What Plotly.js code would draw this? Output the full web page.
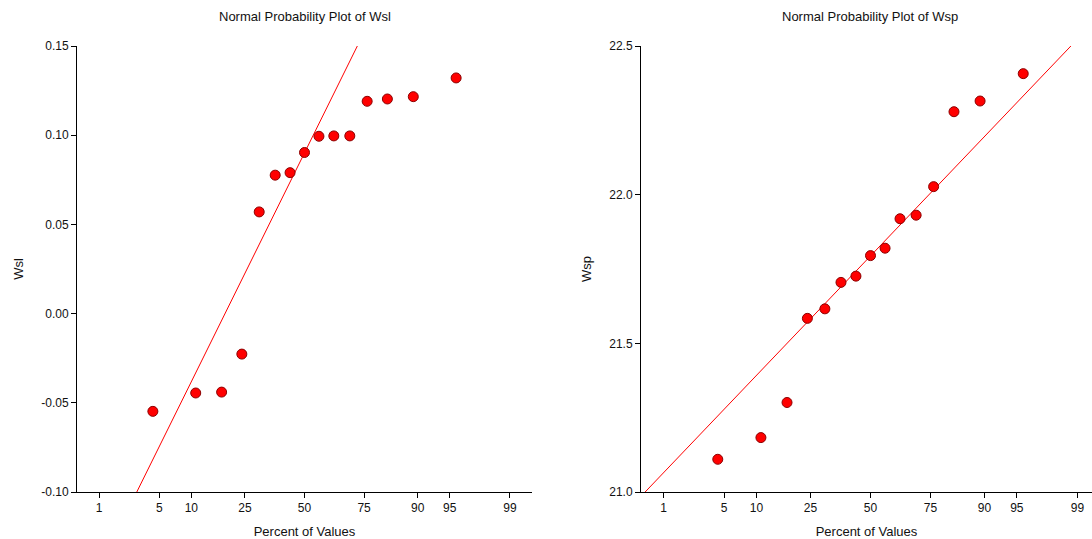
<!DOCTYPE html>
<html>
<head>
<meta charset="utf-8">
<script src="https://cdn.plot.ly/plotly-3.0.1.min.js"></script>
<style>html,body{margin:0;padding:0;background:#fff;}#chart{width:1092px;height:539px;}</style>
</head>
<body>
<div id="chart"></div>
<script>
// ---- data ----
const percentPos = [4.3, 10.9, 17.4, 23.9, 30.4, 37.0, 43.5, 50.0, 56.5, 63.0, 69.6, 76.1, 82.6, 89.1, 95.7];
const wslValues = [-0.0548, -0.0445, -0.0440, -0.0227, 0.0570, 0.0776, 0.0790, 0.0903, 0.0994, 0.0996, 0.0996, 0.1190, 0.1203, 0.1216, 0.1321];
const wspValues = [21.110, 21.183, 21.301, 21.584, 21.616, 21.705, 21.726, 21.795, 21.820, 21.919, 21.931, 22.027, 22.279, 22.315, 22.407];
const wslLine = {center: 0.0901, slope: 0.1001};   // value at 50% and per normal-score unit
const wspLine = {center: 21.794, slope: 0.3134};
const pctTicks = [1, 5, 10, 25, 50, 75, 90, 95, 99];
const pctTickText = ["1", "5", "10", "25", "50", "75", "90", "95", "99"];
const wslTicks = [-0.10, -0.05, 0.00, 0.05, 0.10, 0.15];
const wslTickText = ["-0.10", "-0.05", "0.00", "0.05", "0.10", "0.15"];
const wspTicks = [21.0, 21.5, 22.0, 22.5];
const wspTickText = ["21.0", "21.5", "22.0", "22.5"];

// normal probability scale: percent -> normal score (inverse normal CDF, Acklam)
function probit(p) {
  const a = [-3.969683028665376e+01, 2.209460984245205e+02, -2.759285104469687e+02, 1.383577518672690e+02, -3.066479806614716e+01, 2.506628277459239e+00];
  const b = [-5.447609879822406e+01, 1.615858368580409e+02, -1.556989798598866e+02, 6.680131188771972e+01, -1.328068155288572e+01];
  const c = [-7.784894002430293e-03, -3.223964580411365e-01, -2.400758277161838e+00, -2.549732539343734e+00, 4.374664141464968e+00, 2.938163982698783e+00];
  const d = [7.784695709041462e-03, 3.224671290700398e-01, 2.445134137142996e+00, 3.754408661907416e+00];
  const pl = 0.02425, ph = 1 - pl;
  let q, r;
  if (p < pl) { q = Math.sqrt(-2 * Math.log(p)); return (((((c[0]*q+c[1])*q+c[2])*q+c[3])*q+c[4])*q+c[5]) / ((((d[0]*q+d[1])*q+d[2])*q+d[3])*q+1); }
  if (p <= ph) { q = p - 0.5; r = q*q; return (((((a[0]*r+a[1])*r+a[2])*r+a[3])*r+a[4])*r+a[5])*q / (((((b[0]*r+b[1])*r+b[2])*r+b[3])*r+b[4])*r+1); }
  q = Math.sqrt(-2 * Math.log(1 - p));
  return -(((((c[0]*q+c[1])*q+c[2])*q+c[3])*q+c[4])*q+c[5]) / ((((d[0]*q+d[1])*q+d[2])*q+d[3])*q+1);
}
const toZ = pc => probit(pc / 100);
const zPts = percentPos.map(toZ);
const zTicks = pctTicks.map(toZ);
const zSpan = [-3.2, 3.2];

const markerStyle = {size: 10, color: '#ff0000', line: {color: '#8b0000', width: 1}};
const lineStyle = {color: '#ff0000', width: 1};
const font = {family: 'Liberation Sans, Arial, sans-serif', size: 12, color: '#111'};

const traces = [
  {x: zSpan, y: zSpan.map(z => wslLine.center + wslLine.slope * z), mode: 'lines', line: lineStyle, xaxis: 'x', yaxis: 'y', hoverinfo: 'skip'},
  {x: zPts, y: wslValues, mode: 'markers', marker: markerStyle, xaxis: 'x', yaxis: 'y', cliponaxis: false},
  {x: zSpan, y: zSpan.map(z => wspLine.center + wspLine.slope * z), mode: 'lines', line: lineStyle, xaxis: 'x2', yaxis: 'y2', hoverinfo: 'skip'},
  {x: zPts, y: wspValues, mode: 'markers', marker: markerStyle, xaxis: 'x2', yaxis: 'y2', cliponaxis: false}
];

const W = 1015;
const axisCommon = {
  showgrid: false, zeroline: false, showline: true, linecolor: '#000', linewidth: 1,
  ticks: 'outside', ticklen: 5, tickcolor: '#000', tickwidth: 1,
  tickfont: {family: font.family, size: 12, color: '#111'}, automargin: false, fixedrange: true
};
const xTitle = {text: 'Percent of Values', font: {family: font.family, size: 13, color: '#111'}, standoff: 13};

const layout = {
  width: 1092, height: 539,
  margin: {l: 77, r: 0, t: 46, b: 47},
  paper_bgcolor: '#fff', plot_bgcolor: '#fff',
  showlegend: false, font: font,
  xaxis: Object.assign({}, axisCommon, {domain: [0, 455 / W], range: [-2.576, 2.576], tickmode: 'array', tickvals: zTicks, ticktext: pctTickText, anchor: 'y', title: xTitle}),
  yaxis: Object.assign({}, axisCommon, {domain: [0, 1], range: [-0.10, 0.15], tickmode: 'array', tickvals: wslTicks, ticktext: wslTickText, anchor: 'x',
    title: {text: 'Wsl', font: {family: font.family, size: 13, color: '#111'}, standoff: 14}}),
  xaxis2: Object.assign({}, axisCommon, {domain: [564 / W, 1], range: [-2.58, 2.49], tickmode: 'array', tickvals: zTicks, ticktext: pctTickText, anchor: 'y2', title: xTitle}),
  yaxis2: Object.assign({}, axisCommon, {domain: [0, 1], range: [21.0, 22.5], tickmode: 'array', tickvals: wspTicks, ticktext: wspTickText, anchor: 'x2',
    title: {text: 'Wsp', font: {family: font.family, size: 13, color: '#111'}, standoff: 14}}),
  annotations: [
    {text: 'Normal Probability Plot of Wsl', xref: 'paper', yref: 'paper', x: (305 - 77) / W, y: 1 + (46 - 17) / 446, xanchor: 'center', yanchor: 'middle', showarrow: false, font: {family: font.family, size: 13, color: '#111'}},
    {text: 'Normal Probability Plot of Wsp', xref: 'paper', yref: 'paper', x: (870 - 77) / W, y: 1 + (46 - 17) / 446, xanchor: 'center', yanchor: 'middle', showarrow: false, font: {family: font.family, size: 13, color: '#111'}}
  ]
};

Plotly.newPlot('chart', traces, layout, {displayModeBar: false, staticPlot: true});
</script>
</body>
</html>
